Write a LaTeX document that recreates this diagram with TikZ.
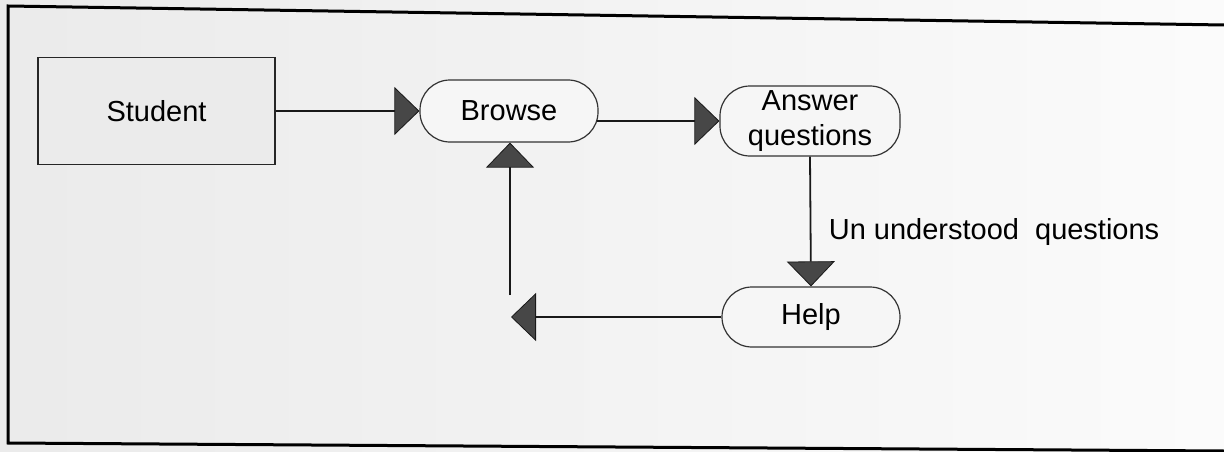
\documentclass[tikz,border=0pt]{standalone}
\usepackage{fontspec}
\setmainfont{Liberation Sans}
\usetikzlibrary{arrows.meta,calc}

\tikzset{
  every node/.style={font=\fontsize{29pt}{35pt}\selectfont, text=black},
  entity/.style={draw=black!85, line width=1.2pt, fill=gray!16,
    minimum width=237pt, minimum height=107pt, inner sep=0pt},
  process/.style={draw=black!80, line width=1.2pt, fill=gray!7,
    rounded corners=30pt, inner sep=0pt, align=center},
  flow/.style={line width=1.8pt, draw=black!90,
    -{Triangle[length=25pt, width=48pt, fill=black!72, line width=0.8pt]}},
  plain/.style={line width=1.8pt, draw=black!90},
  frame/.style={line width=3pt, draw=black}
}

\begin{document}
\begin{tikzpicture}[x=1pt, y=-1pt]
  % paper background
  \useasboundingbox (0,0) rectangle (1224,452);
  \fill[left color=gray!16, right color=gray!3] (0,0) rectangle (1224,452);

  % outer frame (open on the right)
  \draw[frame] (1224,25) -- (8,6) -- (8,443) -- (1224,451);

  % nodes
  \node[entity] (student) at (156.5,111) {Student};
  \node[process, minimum width=178pt, minimum height=62pt] (browse) at (509,111) {Browse};
  \node[process, minimum width=180pt, minimum height=70pt] (answer) at (810,121) {Answer\\questions};
  \node[process, minimum width=178pt, minimum height=60pt] (help) at (811,317) {Help};

  % free end of the return line
  \coordinate (loop) at (511,317);
  \coordinate (loopup) at (510,295);

  % connectors
  \draw[plain] (student.east) -- ($(student.east)+(118,0)$) coordinate (sb);
  \draw[flow] (sb) -- (browse.west);
  \draw[flow] ($(browse.east |- answer.west)+(-2,0)$) -- (answer.west);
  \draw[flow] (answer.south) -- (help.north)
    node[pos=0.58, right=14pt, anchor=west] {Un understood\ \ questions};
  \draw[flow] (help.west) -- (loop);
  \draw[flow] (loopup) -- (loopup |- browse.south);
\end{tikzpicture}
\end{document}
